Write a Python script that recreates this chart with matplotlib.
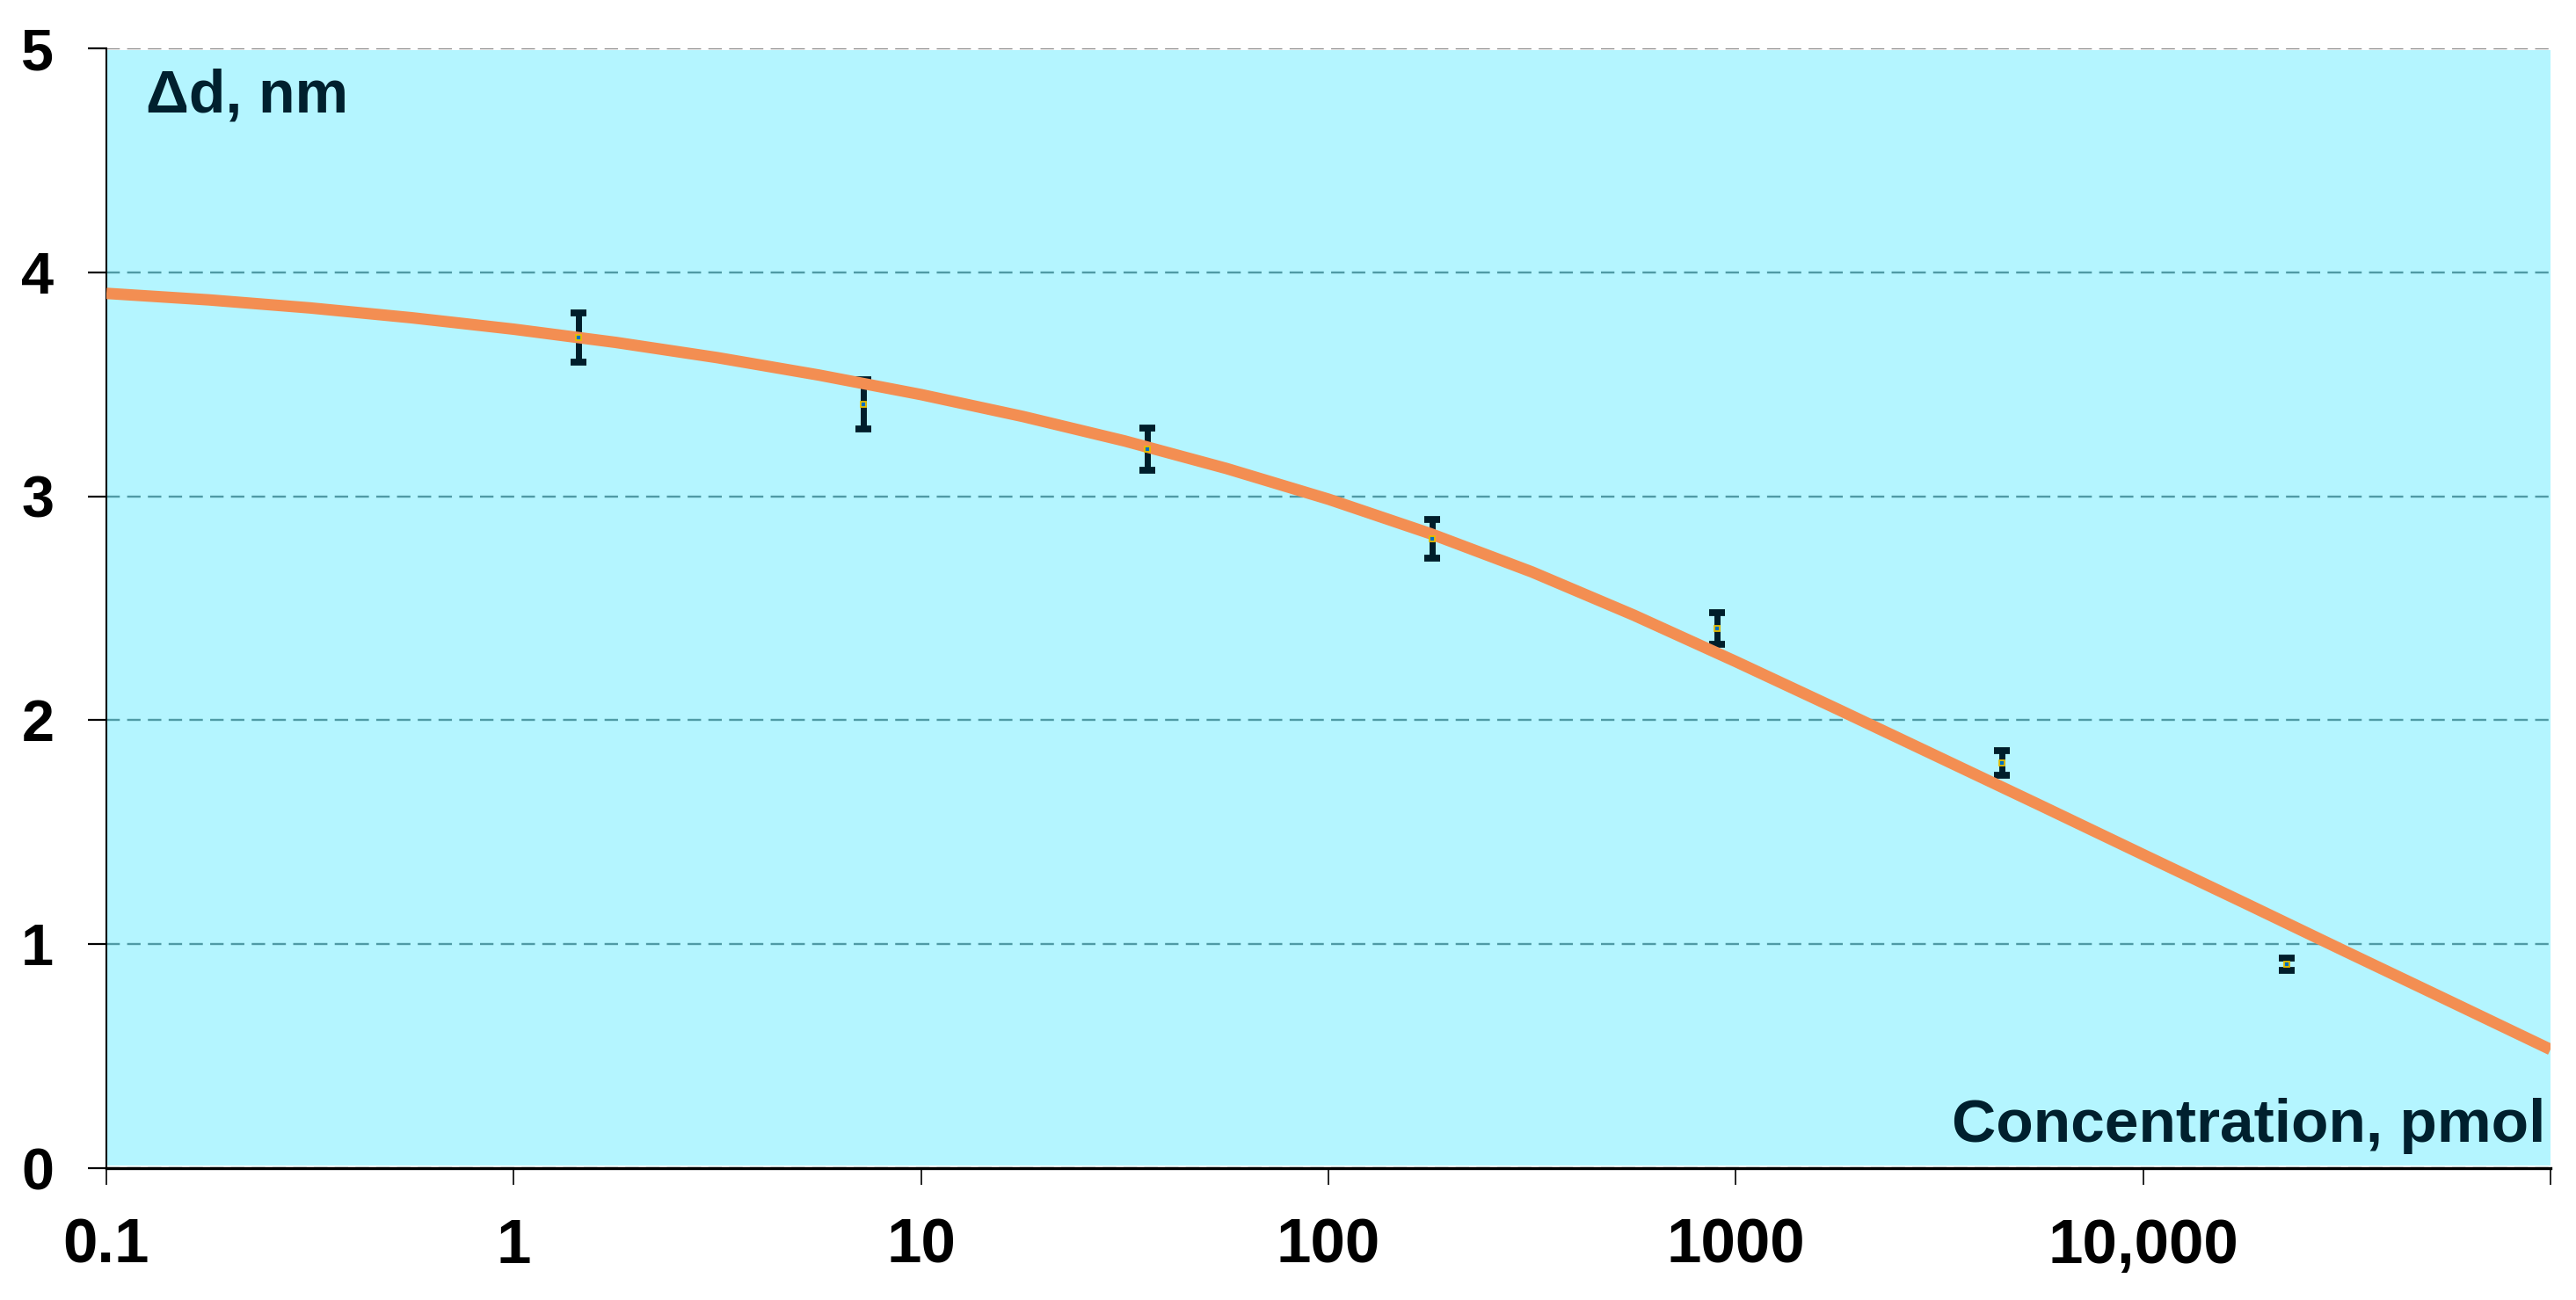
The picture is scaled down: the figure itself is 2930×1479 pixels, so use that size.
import matplotlib
matplotlib.use('Agg')
import matplotlib.pyplot as plt

# ---- data ----
conc = [1.44, 7.2, 36, 180, 900, 4500, 22500]
delta_d = [3.71, 3.41, 3.21, 2.81, 2.41, 1.81, 0.91]
delta_err = [0.11, 0.11, 0.095, 0.085, 0.07, 0.055, 0.027]

# fitted curve, every quarter decade
fit_conc = [0.1, 0.178, 0.316, 0.562, 1, 1.78, 3.16, 5.62, 10, 17.8, 31.6, 56.2,
            100, 178, 316, 562, 1000, 1780, 3160, 5620, 10000, 17800, 31600, 56200, 100000]
fit_d = [3.906, 3.877, 3.841, 3.797, 3.746, 3.687, 3.619, 3.541, 3.454, 3.356, 3.247, 3.124,
         2.987, 2.833, 2.662, 2.469, 2.262, 2.049, 1.834, 1.618, 1.400, 1.183, 0.965, 0.748, 0.530]

xticks = [0.1, 1, 10, 100, 1000, 10000, 100000]
xticklabels = ['0.1', '1', '10', '100', '1000', '10,000', '']
yticks = [0, 1, 2, 3, 4, 5]
yticklabels = ['0', '1', '2', '3', '4', '5']

ylabel_text = 'Δd, nm'
xlabel_text = 'Concentration, pmol'

# ---- style ----
plt.rcParams['font.family'] = ['Liberation Sans', 'DejaVu Sans']
plt.rcParams['font.weight'] = 'bold'
plt.rcParams['lines.scale_dashes'] = False

W, H, DPI = 2930, 1479, 100
fig = plt.figure(figsize=(W / DPI, H / DPI), dpi=DPI)
ax = fig.add_axes([121 / W, 1 - 1329 / H, (2901 - 121) / W, (1329 - 55) / H])
ax.set_facecolor('white')

ax.set_xscale('log')
ax.set_xlim(0.1, 100000)
ax.set_ylim(0, 5)

# cyan plot area
ax.axhspan(0.012, 4.993, color='#B4F5FF', zorder=0, lw=0)

ax.set_yticks(yticks)
ax.set_yticklabels(yticklabels)
ax.set_xticks(xticks)
ax.set_xticklabels(xticklabels)
ax.minorticks_off()
ax.grid(axis='y', color='#4F9AA5', linewidth=1.7, dashes=(11, 6), zorder=1)
ax.set_axisbelow(True)
gl = ax.get_ygridlines()
gl[-1].set_color('#8C8C8C')

# error bars
ax.errorbar(conc, delta_d, yerr=delta_err, fmt='none', ecolor='#001E2B',
            elinewidth=5, capsize=6.8, capthick=5.6, zorder=3)
# fit curve
ax.plot(fit_conc, fit_d, color='#F38E52', linewidth=9.4, solid_capstyle='butt',
        solid_joinstyle='round', zorder=4)
# markers
ax.plot(conc, delta_d, linestyle='none', marker='s', markersize=5,
        markerfacecolor='#0070C0', markeredgecolor='#E8BE00', markeredgewidth=1.3, zorder=5)

# spines
for s in ['top', 'right']:
    ax.spines[s].set_visible(False)
ax.spines['left'].set_linewidth(1.5)
ax.spines['bottom'].set_linewidth(2.4)
ax.spines['left'].set_color('black')
ax.spines['bottom'].set_color('black')

ax.tick_params(axis='y', direction='out', length=15, width=1.6, pad=28,
               labelsize=48, labelcolor='black')
ax.tick_params(axis='x', direction='out', length=14, width=1.2, pad=27,
               labelsize=51, labelcolor='black')
for lab in ax.get_xticklabels() + ax.get_yticklabels():
    lab.set_fontweight('bold')

# in-plot labels
fig.text(166 / W, 1 - 127 / H, ylabel_text, fontsize=49, fontweight='bold',
         color='#00202E', ha='left', va='baseline')
fig.text(2895 / W, 1 - 1299 / H, xlabel_text, fontsize=50, fontweight='bold',
         color='#00202E', ha='right', va='baseline')

fig.savefig('out.png', dpi=DPI)
